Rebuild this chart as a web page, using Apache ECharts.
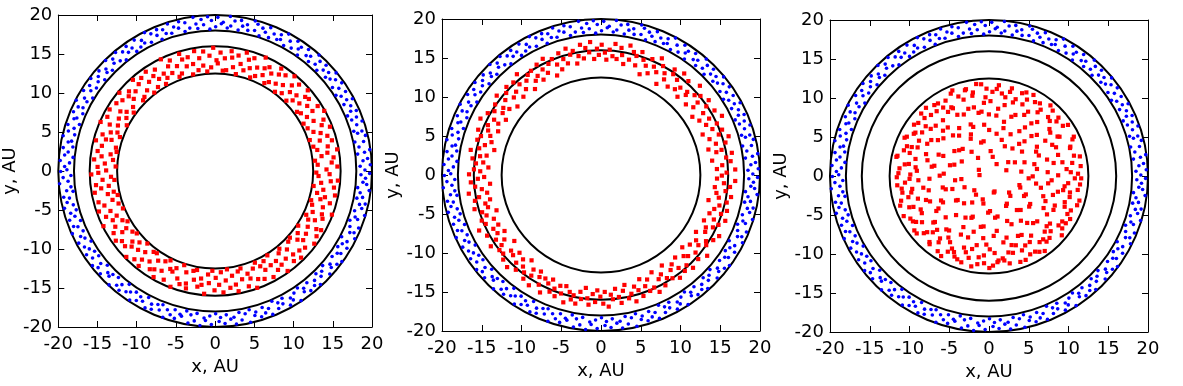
<!DOCTYPE html>
<html>
<head>
    <meta charset="utf-8">
    <title>Кольца частиц</title>
    <script src="https://cdn.jsdelivr.net/npm/echarts@6/dist/echarts.min.js"></script>
</head>
<body style="margin:0;background:#fff;">
    <div id="chart" style="width:1183px;height:386px;"></div>
    <script type="text/javascript">
        // radii of the black circles, AU
        var circleRadii = [12.5, 16, 18, 20];

        // points as [angle in degrees, radius in AU]
        // outer blue ring, same in all three panels
        var blueRing = [[0.4,19.1],[1.9,18.5],[2.3,19.8],[4.0,18.9],[4.7,19.5],[6.8,18.3],[7.2,19.2],[7.9,19.9],[9.5,18.6],[11.3,19.3],[11.8,18.2],[13.4,19.7],[14.9,18.8],[15.3,19.4],[16.1,18.4],[18.2,19.0],[18.9,19.8],[20.6,18.6],[21.0,19.3],[22.7,18.3],[23.3,19.6],[23.9,18.9],[25.8,19.2],[27.4,18.5],[27.9,19.8],[28.6,19.1],[30.8,18.7],[31.5,19.5],[32.2,18.2],[33.9,19.0],[35.0,19.7],[35.6,18.4],[37.3,19.3],[38.8,18.8],[39.2,19.9],[40.5,18.5],[41.1,19.2],[43.2,18.9],[43.8,19.6],[44.9,18.3],[46.4,19.4],[47.0,18.7],[48.3,19.9],[49.7,18.4],[50.4,19.1],[51.9,18.8],[52.6,19.6],[54.8,18.2],[55.3,19.3],[55.9,18.9],[57.6,19.7],[58.4,18.5],[60.1,19.2],[61.5,18.3],[61.9,19.9],[63.7,18.8],[64.2,19.4],[65.0,18.6],[66.8,19.1],[68.3,18.4],[68.9,19.7],[70.2,18.9],[71.6,19.3],[72.1,18.2],[73.8,19.6],[74.4,18.7],[75.1,19.9],[77.0,18.5],[77.6,19.2],[79.3,18.9],[80.1,19.6],[80.8,18.3],[82.5,19.4],[83.9,18.7],[84.4,19.9],[85.2,18.4],[86.9,19.1],[87.6,18.9],[89.0,19.7],[89.8,18.5],[91.4,19.3],[92.1,18.2],[92.8,19.8],[94.5,18.8],[95.3,19.5],[96.9,18.4],[97.4,19.0],[98.2,19.9],[100.0,18.6],[101.5,19.4],[102.1,18.3],[103.7,19.7],[104.3,18.9],[106.0,19.2],[107.4,18.5],[107.9,19.8],[109.5,18.7],[110.3,19.3],[111.8,18.2],[112.4,19.6],[113.1,18.9],[115.0,19.4],[116.2,18.4],[116.9,19.9],[118.7,18.7],[119.3,19.2],[120.8,18.5],[121.6,19.7],[123.1,18.3],[123.9,19.0],[125.4,19.6],[126.0,18.8],[127.7,19.3],[128.5,18.2],[129.9,19.8],[130.6,18.6],[132.3,19.4],[133.0,18.9],[134.6,19.9],[135.4,18.4],[136.8,19.1],[137.5,18.7],[139.1,19.6],[140.3,18.3],[140.9,19.2],[142.5,18.8],[143.2,19.8],[144.9,18.5],[145.6,19.4],[147.0,18.9],[148.4,19.7],[149.1,18.2],[150.7,19.1],[151.5,18.6],[152.9,19.9],[154.3,18.7],[154.8,19.3],[156.5,18.4],[157.2,19.6],[158.9,18.9],[159.6,19.2],[161.0,18.3],[162.4,19.7],[163.1,18.8],[164.7,19.4],[165.5,18.5],[166.9,19.9],[168.2,18.7],[168.8,19.1],[170.4,18.4],[171.2,19.6],[172.6,18.9],[173.9,19.3],[174.5,18.2],[176.1,19.8],[176.8,18.6],[178.3,19.2],[179.5,18.9],[180.2,19.7],[181.8,18.4],[182.5,19.4],[184.0,18.8],[184.7,19.9],[186.3,18.5],[187.6,19.1],[188.2,18.3],[189.9,19.6],[190.6,18.9],[192.1,19.3],[193.5,18.6],[194.0,19.8],[195.7,18.4],[196.4,19.2],[198.0,18.8],[198.8,19.6],[200.3,18.3],[201.5,19.4],[202.2,18.9],[203.8,19.9],[204.5,18.5],[206.1,19.1],[207.4,18.7],[208.0,19.7],[209.6,18.2],[210.3,19.3],[211.9,18.9],[213.2,19.6],[213.8,18.5],[215.5,19.2],[216.2,18.4],[217.8,19.8],[219.1,18.8],[219.7,19.4],[221.3,18.3],[222.0,19.7],[223.6,18.9],[224.9,19.1],[225.5,18.6],[227.2,19.9],[227.9,18.4],[229.4,19.3],[230.8,18.8],[231.3,19.6],[233.0,18.2],[233.7,19.2],[235.2,18.9],[236.6,19.8],[237.1,18.5],[238.8,19.4],[239.5,18.7],[241.0,19.1],[242.4,18.3],[243.0,19.7],[244.6,18.9],[245.3,19.5],[246.9,18.6],[248.2,19.2],[248.8,18.4],[250.4,19.9],[251.1,18.8],[252.7,19.3],[254.0,18.5],[254.6,19.6],[256.3,18.9],[257.0,19.1],[258.6,18.3],[259.9,19.8],[260.5,18.7],[262.1,19.4],[262.8,18.4],[264.4,19.9],[265.7,18.9],[266.3,19.2],[267.9,18.6],[268.6,19.7],[270.2,18.3],[271.5,19.3],[272.1,18.8],[273.7,19.6],[274.4,18.5],[276.0,19.1],[277.3,18.9],[277.9,19.8],[279.5,18.4],[280.2,19.4],[281.8,18.7],[283.1,19.9],[283.7,18.3],[285.3,19.2],[286.0,18.8],[287.6,19.6],[288.9,18.5],[289.5,19.3],[291.1,18.9],[291.8,19.8],[293.4,18.2],[294.7,19.4],[295.3,18.7],[296.9,19.1],[297.6,18.4],[299.2,19.7],[300.5,18.9],[301.1,19.3],[302.7,18.6],[303.4,19.9],[305.0,18.3],[306.3,19.2],[306.9,18.8],[308.5,19.6],[309.2,18.5],[310.8,19.4],[312.1,18.9],[312.7,19.8],[314.3,18.4],[315.0,19.1],[316.6,18.7],[317.9,19.7],[318.5,18.3],[320.1,19.3],[320.8,18.9],[322.4,19.6],[323.7,18.5],[324.3,19.9],[325.9,18.8],[326.6,19.2],[328.2,18.4],[329.5,19.5],[330.1,18.7],[331.7,19.1],[332.4,18.2],[334.0,19.8],[335.3,18.9],[335.9,19.4],[337.5,18.6],[338.2,19.7],[339.8,18.3],[341.1,19.2],[341.7,18.8],[343.3,19.9],[344.0,18.5],[345.6,19.3],[346.9,18.9],[347.5,19.6],[349.1,18.4],[349.8,19.1],[351.4,18.7],[352.7,19.8],[353.3,18.3],[354.9,19.4],[355.6,18.9],[357.2,19.2],[358.5,18.6],[359.1,19.7]];

        // red, panel 1: between 12.5 and 16 AU
        var redPanel1 = [[0.8,14.2],[2.1,15.6],[3.5,13.1],[4.2,14.9],[5.9,12.8],[6.6,15.2],[8.0,13.7],[9.3,14.5],[10.1,15.8],[11.7,13.3],[12.4,14.7],[14.0,12.9],[14.8,15.4],[16.3,13.9],[17.5,15.0],[18.2,12.7],[19.9,14.3],[21.2,15.7],[21.8,13.5],[23.4,14.8],[24.9,13.0],[25.5,15.3],[27.1,14.1],[28.3,12.8],[29.0,15.9],[30.6,13.6],[31.8,14.6],[32.5,15.5],[34.1,13.2],[35.4,14.4],[36.0,12.9],[37.7,15.1],[38.9,13.8],[39.6,14.9],[41.2,15.7],[42.5,13.4],[43.1,14.2],[44.8,12.8],[46.0,15.4],[46.7,13.9],[48.3,14.7],[49.6,13.1],[50.2,15.8],[51.9,14.0],[53.1,12.7],[53.8,15.2],[55.4,13.6],[56.7,14.8],[57.3,15.6],[59.0,13.3],[60.2,14.4],[60.9,12.9],[62.5,15.0],[63.8,13.7],[64.4,14.6],[66.1,15.9],[67.3,13.2],[68.0,14.3],[69.6,12.8],[70.9,15.3],[71.5,13.9],[73.2,14.9],[74.4,13.4],[75.1,15.7],[76.7,14.1],[78.0,12.7],[78.6,15.1],[80.3,13.5],[81.5,14.7],[82.2,15.5],[83.8,13.0],[85.1,14.5],[85.7,12.9],[87.4,15.2],[88.6,13.8],[89.3,14.2],[90.9,15.8],[92.2,13.3],[92.8,14.8],[94.5,12.8],[95.7,15.4],[96.4,13.6],[98.0,14.6],[99.3,13.1],[99.9,15.6],[101.6,14.0],[102.8,12.7],[103.5,15.0],[105.1,13.9],[106.4,14.9],[107.0,15.7],[108.7,13.2],[109.9,14.3],[110.6,12.9],[112.2,15.3],[113.5,13.7],[114.1,14.7],[115.8,15.9],[117.0,13.4],[117.7,14.1],[119.3,12.8],[120.6,15.1],[121.2,13.8],[122.9,14.5],[124.1,13.0],[124.8,15.5],[126.4,14.2],[127.7,12.7],[128.3,15.2],[130.0,13.5],[131.2,14.8],[131.9,15.7],[133.5,13.1],[134.8,14.4],[135.4,12.9],[137.1,15.0],[138.3,13.9],[139.0,14.6],[140.6,15.8],[141.9,13.3],[142.5,14.9],[144.2,12.8],[145.4,15.3],[146.1,13.6],[147.7,14.3],[149.0,13.2],[149.6,15.6],[151.3,14.0],[152.5,12.7],[153.2,15.4],[154.8,13.7],[156.1,14.7],[156.7,15.9],[158.4,13.4],[159.6,14.2],[160.3,12.9],[161.9,15.1],[163.2,13.8],[163.8,14.5],[165.5,15.7],[166.7,13.0],[167.4,14.8],[169.0,12.8],[170.3,15.2],[170.9,13.5],[172.6,14.6],[173.8,13.1],[174.5,15.5],[176.1,14.1],[177.4,12.7],[178.0,15.0],[179.7,13.9],[180.9,14.9],[181.6,15.8],[183.2,13.3],[184.5,14.4],[185.1,12.9],[186.8,15.3],[188.0,13.7],[188.7,14.7],[190.3,15.6],[191.6,13.2],[192.2,14.0],[193.9,12.8],[195.1,15.4],[195.8,13.6],[197.4,14.8],[198.7,13.0],[199.3,15.7],[201.0,14.3],[202.2,12.7],[202.9,15.1],[204.5,13.8],[205.8,14.5],[206.4,15.9],[208.1,13.4],[209.3,14.6],[210.0,12.9],[211.6,15.2],[212.9,13.5],[213.5,14.2],[215.2,15.5],[216.4,13.1],[217.1,14.9],[218.7,12.8],[220.0,15.0],[220.6,13.9],[222.3,14.4],[223.5,13.3],[224.2,15.8],[225.8,14.1],[227.1,12.7],[227.7,15.3],[229.4,13.7],[230.6,14.7],[231.3,15.6],[232.9,13.0],[234.2,14.3],[234.8,12.9],[236.5,15.1],[237.7,13.6],[238.4,14.8],[240.0,15.7],[241.3,13.2],[241.9,14.5],[243.6,12.8],[244.8,15.4],[245.5,13.8],[247.1,14.0],[248.4,13.4],[249.0,15.9],[250.7,14.6],[251.9,12.7],[252.6,15.2],[254.2,13.5],[255.5,14.9],[256.1,15.5],[257.8,13.1],[259.0,14.2],[259.7,12.9],[261.3,15.0],[262.6,13.9],[263.2,14.7],[264.9,15.8],[266.1,13.3],[266.8,14.4],[268.4,12.8],[269.7,15.3],[270.3,13.7],[272.0,14.6],[273.2,13.0],[273.9,15.6],[275.5,14.1],[276.8,12.7],[277.4,15.1],[279.1,13.6],[280.3,14.8],[281.0,15.7],[282.6,13.2],[283.9,14.3],[284.5,12.9],[286.2,15.4],[287.4,13.8],[288.1,14.5],[289.7,15.9],[291.0,13.4],[291.6,14.9],[293.3,12.8],[294.5,15.2],[295.2,13.5],[296.8,14.2],[298.1,13.1],[298.7,15.5],[300.4,14.0],[301.6,12.7],[302.3,15.0],[303.9,13.9],[305.2,14.7],[305.8,15.8],[307.5,13.3],[308.7,14.4],[309.4,12.9],[311.0,15.3],[312.3,13.6],[312.9,14.6],[314.6,15.6],[315.8,13.0],[316.5,14.8],[318.1,12.8],[319.4,15.1],[320.0,13.7],[321.7,14.3],[322.9,13.2],[323.6,15.7],[325.2,14.1],[326.5,12.7],[327.1,15.4],[328.8,13.8],[330.0,14.9],[330.7,15.5],[332.3,13.4],[333.6,14.2],[334.2,12.9],[335.9,15.0],[337.1,13.5],[337.8,14.7],[339.4,15.9],[340.7,13.1],[341.3,14.5],[343.0,12.8],[344.2,15.2],[344.9,13.9],[346.5,14.4],[347.8,13.3],[348.4,15.6],[350.1,14.0],[351.3,12.7],[352.0,15.3],[353.6,13.6],[354.9,14.8],[355.5,15.7],[357.2,13.2],[358.4,14.6],[359.1,12.9]];

        // red, panel 2: spread around the 16 AU circle
        var redPanel2 = [[1.1,15.8],[2.4,16.9],[3.0,14.6],[4.7,15.3],[6.2,16.4],[7.5,14.1],[8.1,15.9],[9.8,16.7],[11.4,14.8],[12.0,15.5],[13.6,13.9],[14.9,16.2],[15.5,15.0],[17.2,16.8],[18.6,14.4],[19.3,15.7],[20.9,16.3],[22.1,13.8],[22.8,15.2],[24.4,16.0],[25.9,14.7],[26.5,17.0],[28.0,15.4],[29.4,14.2],[30.1,16.5],[31.7,15.1],[33.0,13.7],[33.6,15.9],[35.3,16.6],[36.8,14.5],[37.4,15.3],[39.0,16.1],[40.3,14.0],[41.0,15.6],[42.6,16.9],[43.9,14.8],[44.5,15.2],[46.2,13.9],[47.6,16.3],[48.3,15.0],[49.8,14.4],[51.2,16.7],[51.9,15.5],[53.5,14.1],[54.9,15.8],[55.6,16.4],[57.1,14.6],[58.5,15.3],[59.2,13.6],[60.8,16.0],[62.2,14.9],[62.9,16.8],[64.4,15.4],[65.8,14.3],[66.5,16.2],[68.1,15.1],[69.4,13.8],[70.1,15.7],[71.7,16.6],[73.0,14.7],[73.7,15.9],[75.3,16.3],[76.6,15.2],[77.4,17.0],[78.9,14.5],[80.2,15.6],[81.0,16.5],[82.5,15.0],[83.8,16.9],[84.6,15.3],[86.1,16.1],[87.4,14.8],[88.2,15.7],[89.7,16.7],[91.0,15.4],[91.8,16.2],[93.3,14.9],[94.6,17.1],[95.4,15.8],[96.9,16.4],[98.2,15.1],[99.0,16.9],[100.5,15.5],[101.8,14.6],[102.6,16.3],[104.1,15.9],[105.4,16.8],[106.2,14.9],[107.7,15.6],[109.0,16.5],[109.8,14.4],[111.3,15.2],[112.6,16.1],[113.4,13.9],[114.9,15.7],[116.2,16.6],[117.0,14.7],[118.5,15.4],[119.8,16.3],[120.6,14.2],[122.1,15.0],[123.4,16.0],[124.2,14.6],[125.7,15.8],[127.0,13.8],[127.8,15.3],[129.3,16.7],[130.6,14.5],[131.4,15.5],[132.9,16.2],[134.2,14.0],[135.0,15.1],[136.5,16.4],[137.8,14.8],[138.6,15.9],[140.1,13.7],[141.4,15.4],[142.2,16.6],[143.7,14.3],[145.0,15.0],[145.8,16.1],[147.3,14.7],[148.6,15.7],[149.4,13.9],[150.9,16.3],[152.2,15.2],[153.0,14.5],[154.5,16.8],[155.8,15.6],[156.6,14.1],[158.1,15.3],[159.4,16.5],[160.2,14.8],[161.7,15.9],[163.0,14.4],[163.8,16.2],[165.3,15.1],[166.6,13.8],[167.4,15.7],[168.9,16.7],[170.2,14.6],[171.0,15.4],[172.5,16.3],[173.8,14.9],[174.6,15.8],[176.1,14.2],[177.4,16.0],[178.2,15.2],[179.7,16.6],[181.0,14.7],[181.8,15.5],[183.3,16.4],[184.6,14.0],[185.4,15.9],[186.9,15.1],[188.2,16.8],[189.0,14.5],[190.5,15.6],[191.8,16.2],[192.6,14.3],[194.1,15.0],[195.4,16.5],[196.2,14.8],[197.7,15.7],[199.0,13.9],[199.8,15.3],[201.3,16.1],[202.6,14.6],[203.4,15.8],[204.9,16.9],[206.2,14.4],[207.0,15.2],[208.5,16.3],[209.8,15.0],[210.6,14.1],[212.1,15.6],[213.4,16.6],[214.2,14.7],[215.7,15.4],[217.0,16.0],[217.8,13.8],[219.3,15.9],[220.6,14.9],[221.4,16.4],[222.9,15.1],[224.2,14.3],[225.0,16.7],[226.5,15.5],[227.8,14.6],[228.6,16.2],[230.1,15.3],[231.4,14.0],[232.2,15.8],[233.7,16.5],[235.0,14.8],[235.8,15.6],[237.3,16.8],[238.6,14.5],[239.4,15.2],[240.9,16.1],[242.2,15.0],[243.0,16.9],[244.5,15.4],[245.8,14.7],[246.6,16.3],[248.1,15.7],[249.4,16.6],[250.2,15.1],[251.7,16.0],[253.0,14.9],[253.8,17.0],[255.3,15.5],[256.6,16.4],[257.4,15.8],[258.9,16.8],[260.2,15.2],[261.0,16.1],[262.5,14.6],[263.8,15.9],[264.6,16.7],[266.1,15.3],[267.4,16.3],[268.2,14.8],[269.7,15.6],[271.0,16.5],[271.8,15.0],[273.3,16.9],[274.6,15.4],[275.4,16.0],[276.9,14.7],[278.2,15.8],[279.0,16.6],[280.5,15.1],[281.8,14.4],[282.6,16.2],[284.1,15.7],[285.4,16.8],[286.2,14.9],[287.7,15.5],[289.0,16.4],[289.8,14.2],[291.3,15.3],[292.6,16.1],[293.4,14.6],[294.9,15.9],[296.2,16.7],[297.0,14.0],[298.5,15.2],[299.8,16.3],[300.6,14.8],[302.1,15.6],[303.4,13.9],[304.2,16.0],[305.7,15.0],[307.0,16.5],[307.8,14.5],[309.3,15.4],[310.6,16.2],[311.4,14.1],[312.9,15.8],[314.2,16.6],[315.0,14.7],[316.5,15.1],[317.8,13.8],[318.6,16.3],[320.1,15.5],[321.4,14.3],[322.2,16.9],[323.7,15.2],[325.0,14.6],[325.8,16.0],[327.3,15.7],[328.6,14.0],[329.4,16.4],[330.9,15.0],[332.2,16.8],[333.0,14.8],[334.5,15.6],[335.8,14.2],[336.6,16.1],[338.1,15.3],[339.4,16.7],[340.2,14.5],[341.7,15.9],[343.0,14.9],[343.8,16.5],[345.3,15.4],[346.6,13.9],[347.4,16.2],[348.9,15.1],[350.2,16.6],[351.0,14.7],[352.5,15.8],[353.8,14.4],[354.6,16.3],[356.1,15.5],[357.4,16.9],[358.2,14.6],[359.7,15.2]];

        // red, panel 3: inside the 12.5 AU circle
        var redPanel3 = [[1.5,11.2],[3.8,7.4],[5.2,9.8],[7.9,4.1],[9.1,10.6],[11.6,8.3],[12.4,11.7],[14.9,5.9],[17.3,9.1],[18.7,2.3],[20.2,10.9],[22.8,6.8],[24.1,11.5],[26.7,8.9],[28.3,3.7],[29.6,10.2],[31.9,7.1],[33.4,11.9],[35.8,9.5],[37.0,5.2],[39.5,11.0],[41.2,8.0],[42.7,10.4],[44.9,6.3],[46.3,11.6],[48.8,9.2],[50.1,4.6],[52.6,10.7],[54.0,7.7],[55.5,11.3],[57.9,1.8],[59.2,9.6],[61.7,11.8],[63.1,6.0],[65.4,10.1],[67.0,8.5],[68.6,11.4],[70.9,4.9],[72.3,9.9],[74.8,7.2],[76.2,11.1],[78.5,10.3],[80.0,5.5],[82.4,8.7],[83.9,11.7],[86.3,3.2],[87.7,10.8],[90.1,7.9],[91.6,11.2],[93.9,9.4],[95.3,6.6],[97.8,11.9],[99.2,8.2],[101.5,10.5],[103.0,4.4],[105.4,11.4],[106.8,9.0],[109.2,7.0],[110.7,10.9],[113.1,5.8],[114.5,11.6],[116.9,8.8],[118.3,10.0],[120.7,2.7],[122.1,9.7],[124.6,11.3],[126.0,6.4],[128.4,10.6],[129.8,8.1],[132.2,11.8],[133.6,4.8],[136.1,9.3],[137.5,11.0],[139.9,7.5],[141.3,10.2],[143.7,5.4],[145.1,11.5],[147.6,8.6],[149.0,10.8],[151.4,3.9],[152.8,9.9],[155.2,11.7],[156.6,6.9],[159.1,10.4],[160.5,8.4],[162.9,11.2],[164.3,5.1],[166.7,9.5],[168.1,11.9],[170.6,7.3],[172.0,10.7],[174.4,1.2],[175.8,9.1],[178.2,11.4],[179.6,6.2],[182.1,10.0],[183.5,8.9],[185.9,11.6],[187.3,4.3],[189.7,9.8],[191.1,11.1],[193.6,7.8],[195.0,10.5],[197.4,5.7],[198.8,11.8],[201.2,8.5],[202.6,10.3],[205.1,3.4],[206.5,9.6],[208.9,11.3],[210.3,6.7],[212.7,10.9],[214.1,8.0],[216.6,11.7],[218.0,5.0],[220.4,9.2],[221.8,11.0],[224.2,7.6],[225.6,10.1],[228.1,4.7],[229.5,11.5],[231.9,8.7],[233.3,10.6],[235.7,2.9],[237.1,9.4],[239.6,11.9],[241.0,6.1],[243.4,10.4],[244.8,8.3],[247.2,11.2],[248.6,5.6],[251.1,9.7],[252.5,11.6],[254.9,7.4],[256.3,10.8],[258.7,3.6],[260.1,9.0],[262.6,11.4],[264.0,6.5],[266.4,10.2],[267.8,8.8],[270.2,11.8],[271.6,4.5],[274.1,9.9],[275.5,11.1],[277.9,7.1],[279.3,10.7],[281.7,5.3],[283.1,11.5],[285.6,8.2],[287.0,10.3],[289.4,2.1],[290.8,9.5],[293.2,11.7],[294.6,6.8],[297.1,10.0],[298.5,8.6],[300.9,11.3],[302.3,4.2],[304.7,9.3],[306.1,11.9],[308.6,7.7],[310.0,10.6],[312.4,5.9],[313.8,11.0],[316.2,8.4],[317.6,10.5],[320.1,3.3],[321.5,9.8],[323.9,11.4],[325.3,6.3],[327.7,10.9],[329.1,8.0],[331.6,11.6],[333.0,5.2],[335.4,9.1],[336.8,11.2],[339.2,7.3],[340.6,10.1],[343.1,4.0],[344.5,11.8],[346.9,8.9],[348.3,10.4],[350.7,6.0],[352.1,9.6],[354.6,11.5],[356.0,7.9],[358.4,10.8],[359.5,5.5],[0.6,8.7],[2.7,10.3],[6.3,11.6],[8.5,6.1],[10.8,9.4],[13.7,11.0],[16.1,7.6],[19.4,10.8],[21.5,4.8],[23.6,9.2],[25.3,11.8],[27.8,6.7],[30.4,10.0],[32.6,8.4],[34.7,11.3],[36.3,3.0],[38.4,9.7],[40.6,11.5],[43.8,7.4],[45.5,10.6],[47.4,5.6],[49.5,11.9],[51.7,8.6],[53.2,10.2],[56.4,6.9],[58.6,11.1],[60.5,9.0],[62.4,4.3],[64.0,10.9],[66.3,11.7],[69.7,8.1],[71.2,10.4],[73.5,6.4],[75.6,11.6],[77.8,9.3],[79.2,2.5],[81.3,10.7],[83.2,7.8],[85.0,11.2],[88.9,9.6],[89.8,5.9],[92.5,10.1],[94.8,11.8],[96.5,8.3],[98.6,4.5],[100.7,10.9],[102.2,9.0],[104.6,11.5],[107.5,6.6],[108.1,10.3],[111.9,8.5],[112.8,11.9],[115.7,5.3],[117.6,9.8],[119.5,11.1],[121.4,7.2],[123.3,10.5],[125.2,3.8],[127.1,11.4],[129.0,9.2],[131.0,6.9],[133.0,10.7],[134.9,8.2],[136.8,11.7],[138.7,5.0],[140.5,9.5],[142.6,11.2],[144.4,7.9],[146.4,10.1],[148.2,1.5],[150.2,10.9],[152.0,8.8],[154.0,11.5],[155.9,6.3],[157.8,9.7],[159.7,11.0],[161.6,4.6],[163.5,10.4],[165.4,8.0],[167.3,11.8],[169.2,7.0],[171.3,10.2],[173.1,9.3],[175.0,11.3],[177.0,5.7],[178.9,9.9],[180.8,11.6],[182.7,7.5],[184.6,10.6],[186.5,3.5],[188.4,11.1],[190.3,8.4],[192.2,10.0],[194.2,6.0],[196.0,11.5],[198.0,9.4],[199.9,4.9],[201.8,10.8],[203.7,8.1],[205.6,11.9],[207.5,6.8],[209.4,9.7],[211.3,11.2],[213.2,7.6],[215.1,10.3],[217.1,5.2],[219.0,11.7],[220.9,9.0],[222.8,10.6],[224.7,2.6],[226.6,9.5],[228.5,11.3],[230.4,6.5],[232.4,10.1],[234.3,8.6],[236.2,11.6],[238.1,4.0],[240.0,9.8],[241.9,11.0],[243.8,7.3],[245.7,10.7],[247.6,5.8],[249.5,11.4],[251.5,8.3],[253.4,10.2],[255.3,3.1],[257.2,9.6],[259.1,11.8],[261.0,6.6],[262.9,10.5],[264.8,8.0],[266.8,11.2],[268.7,4.7],[270.6,9.4],[272.5,11.5],[274.4,7.7],[276.3,10.9],[278.2,5.4],[280.1,11.0],[282.0,8.7],[284.0,10.1],[285.9,2.2],[287.8,9.3],[289.7,11.7],[291.6,6.2],[293.5,10.4],[295.4,8.5],[297.3,11.3],[299.3,4.4],[301.2,9.9],[303.1,11.6],[305.0,7.0],[306.9,10.6],[308.8,5.6],[310.7,11.1],[312.6,8.2],[314.5,10.0],[316.5,3.7],[318.4,9.7],[320.3,11.9],[322.2,6.4],[324.1,10.8],[326.0,8.8],[327.9,11.4],[329.8,5.1],[331.8,9.2],[333.7,11.0],[335.6,7.8],[337.5,10.3],[339.4,4.2],[341.3,11.7],[343.2,8.4],[345.1,10.5],[347.0,6.7],[349.0,9.5],[350.9,11.3],[352.8,7.5],[354.7,10.0],[356.6,5.0],[358.5,11.6]];

        var redPanels = [redPanel1, redPanel2, redPanel3];

        // polar -> x, y in AU
        function toXY(list) {
            return list.map(function (p) {
                var a = p[0] * Math.PI / 180;
                return [p[1] * Math.cos(a), p[1] * Math.sin(a)];
            });
        }

        var font = 'DejaVu Sans, Verdana, sans-serif';
        var gridPos = [
            { left: 54, top: 15, width: 318, height: 312 },
            { left: 442, top: 19, width: 318, height: 312 },
            { left: 830, top: 20, width: 318, height: 312 }
        ];

        var grid = [], xAxis = [], yAxis = [], series = [];

        gridPos.forEach(function (g, i) {
            grid.push({ left: g.left, top: g.top, width: g.width, height: g.height, containLabel: false });

            var common = {
                gridIndex: i,
                type: 'value',
                min: -20,
                max: 20,
                interval: 5,
                splitLine: { show: false },
                axisLine: { onZero: false, lineStyle: { color: '#000', width: 1 } },
                axisTick: { inside: true, length: 6, lineStyle: { color: '#000', width: 1 } }
            };
            var label = { color: '#000', fontFamily: font, fontSize: 18 };

            xAxis.push(Object.assign({}, common, {
                position: 'bottom',
                name: 'x, AU',
                nameLocation: 'middle',
                nameGap: 31,
                nameTextStyle: { color: '#000', fontFamily: font, fontSize: 18 },
                axisLabel: Object.assign({ margin: 8 }, label)
            }));
            xAxis.push(Object.assign({}, common, { position: 'top', axisLabel: { show: false } }));

            yAxis.push(Object.assign({}, common, {
                position: 'left',
                name: 'y, AU',
                nameLocation: 'middle',
                nameGap: 30,
                nameTextStyle: { color: '#000', fontFamily: font, fontSize: 18 },
                axisLabel: Object.assign({ margin: 6 }, label)
            }));
            yAxis.push(Object.assign({}, common, { position: 'right', axisLabel: { show: false } }));

            // black circles
            series.push({
                type: 'custom',
                xAxisIndex: i * 2,
                yAxisIndex: i * 2,
                silent: true,
                z: 2,
                data: circleRadii.map(function (r) { return [r, 0]; }),
                renderItem: function (params, api) {
                    var c = api.coord([0, 0]);
                    var s = api.size([api.value(0), api.value(0)]);
                    return {
                        type: 'ellipse',
                        shape: { cx: c[0], cy: c[1], rx: s[0], ry: s[1] },
                        style: { fill: 'none', stroke: '#000', lineWidth: 2 }
                    };
                }
            });

            series.push({
                type: 'scatter',
                xAxisIndex: i * 2,
                yAxisIndex: i * 2,
                symbol: 'circle',
                symbolSize: 3.6,
                itemStyle: { color: '#0000ff', opacity: 1 },
                z: 3,
                silent: true,
                data: toXY(blueRing)
            });

            series.push({
                type: 'scatter',
                xAxisIndex: i * 2,
                yAxisIndex: i * 2,
                symbol: 'rect',
                symbolSize: 4.2,
                itemStyle: { color: '#ff0000', opacity: 1 },
                z: 3,
                silent: true,
                data: toXY(redPanels[i])
            });
        });

        var myChart = echarts.init(document.getElementById('chart'));
        myChart.setOption({
            animation: false,
            backgroundColor: '#fff',
            grid: grid,
            xAxis: xAxis,
            yAxis: yAxis,
            series: series
        });
    </script>
</body>
</html>
